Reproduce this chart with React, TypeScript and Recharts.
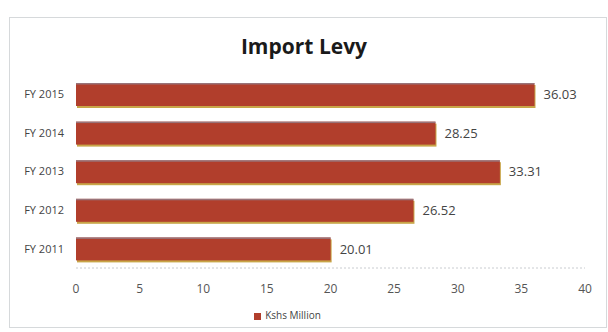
import React from 'react';
import { BarChart, Bar, XAxis, YAxis, LabelList, Legend } from 'recharts';

const years = ['FY 2015', 'FY 2014', 'FY 2013', 'FY 2012', 'FY 2011'];
const levy = [36.03, 28.25, 33.31, 26.52, 20.01];
const xTicks = [0, 5, 10, 15, 20, 25, 30, 35, 40];

const data = years.map((name, i) => ({ name, value: levy[i] }));

const FONT = '"Open Sans", "Liberation Sans", sans-serif';

// bar with a thin gold shadow on the lower/right edge, like the old Excel look
const LevyBar = (props: any) => {
  const { x, y, width, height } = props;
  if (!width || width <= 0) return null;
  return (
    <g>
      <rect x={x + 1} y={y + 2} width={width} height={height} fill="#c8a548" />
      <rect x={x} y={y} width={width} height={height} fill="#b13e2c" />
      <rect x={x} y={y} width={width} height={1.5} fill="#8e8a9a" opacity={0.7} />
    </g>
  );
};

const App: React.FC = () => {
  return (
    <div
      style={{
        position: 'absolute',
        left: 0,
        top: 0,
        width: 608,
        height: 332,
        background: '#ffffff',
        fontFamily: FONT,
      }}
    >
      <div
        style={{
          position: 'absolute',
          left: 9,
          top: 17,
          width: 598,
          height: 311,
          border: '1px solid #d6d9db',
          boxSizing: 'border-box',
        }}
      />
      <div
        style={{
          position: 'absolute',
          left: 0,
          width: 608,
          top: 32,
          textAlign: 'center',
          fontSize: 21,
          fontWeight: 700,
          color: '#1a1a1a',
        }}
      >
        Import Levy
      </div>
      <div style={{ position: 'absolute', left: 0, top: 0 }}>
        <BarChart
          width={608}
          height={332}
          data={data}
          layout="vertical"
          margin={{ top: 75, right: 23, bottom: 4, left: 0 }}
          barSize={23}
        >
          <XAxis
            type="number"
            domain={[0, 40]}
            ticks={xTicks}
            tickLine={false}
            axisLine={{ stroke: '#c9ccd0', strokeDasharray: '2 2' }}
            tick={{ fill: '#555555', fontSize: 12, fontFamily: FONT }}
            tickMargin={10}
            height={40}
          />
          <YAxis
            type="category"
            dataKey="name"
            width={76}
            tickLine={false}
            axisLine={false}
            tick={{ fill: '#444444', fontSize: 11, fontFamily: FONT }}
            tickMargin={6}
          />
          <Legend
            verticalAlign="bottom"
            height={20}
            iconType="square"
            iconSize={7}
            wrapperStyle={{ fontSize: 10, fontFamily: FONT, color: '#444444' }}
            formatter={(v) => <span style={{ color: '#444444' }}>{v}</span>}
          />
          <Bar
            dataKey="value"
            name="Kshs Million"
            fill="#b13e2c"
            shape={LevyBar}
            isAnimationActive={false}
          >
            <LabelList
              dataKey="value"
              position="right"
              offset={9}
              formatter={(v: any) => Number(v).toFixed(2)}
              style={{ fill: '#444444', fontSize: 13, fontFamily: FONT }}
            />
          </Bar>
        </BarChart>
      </div>
    </div>
  );
};

export default App;
